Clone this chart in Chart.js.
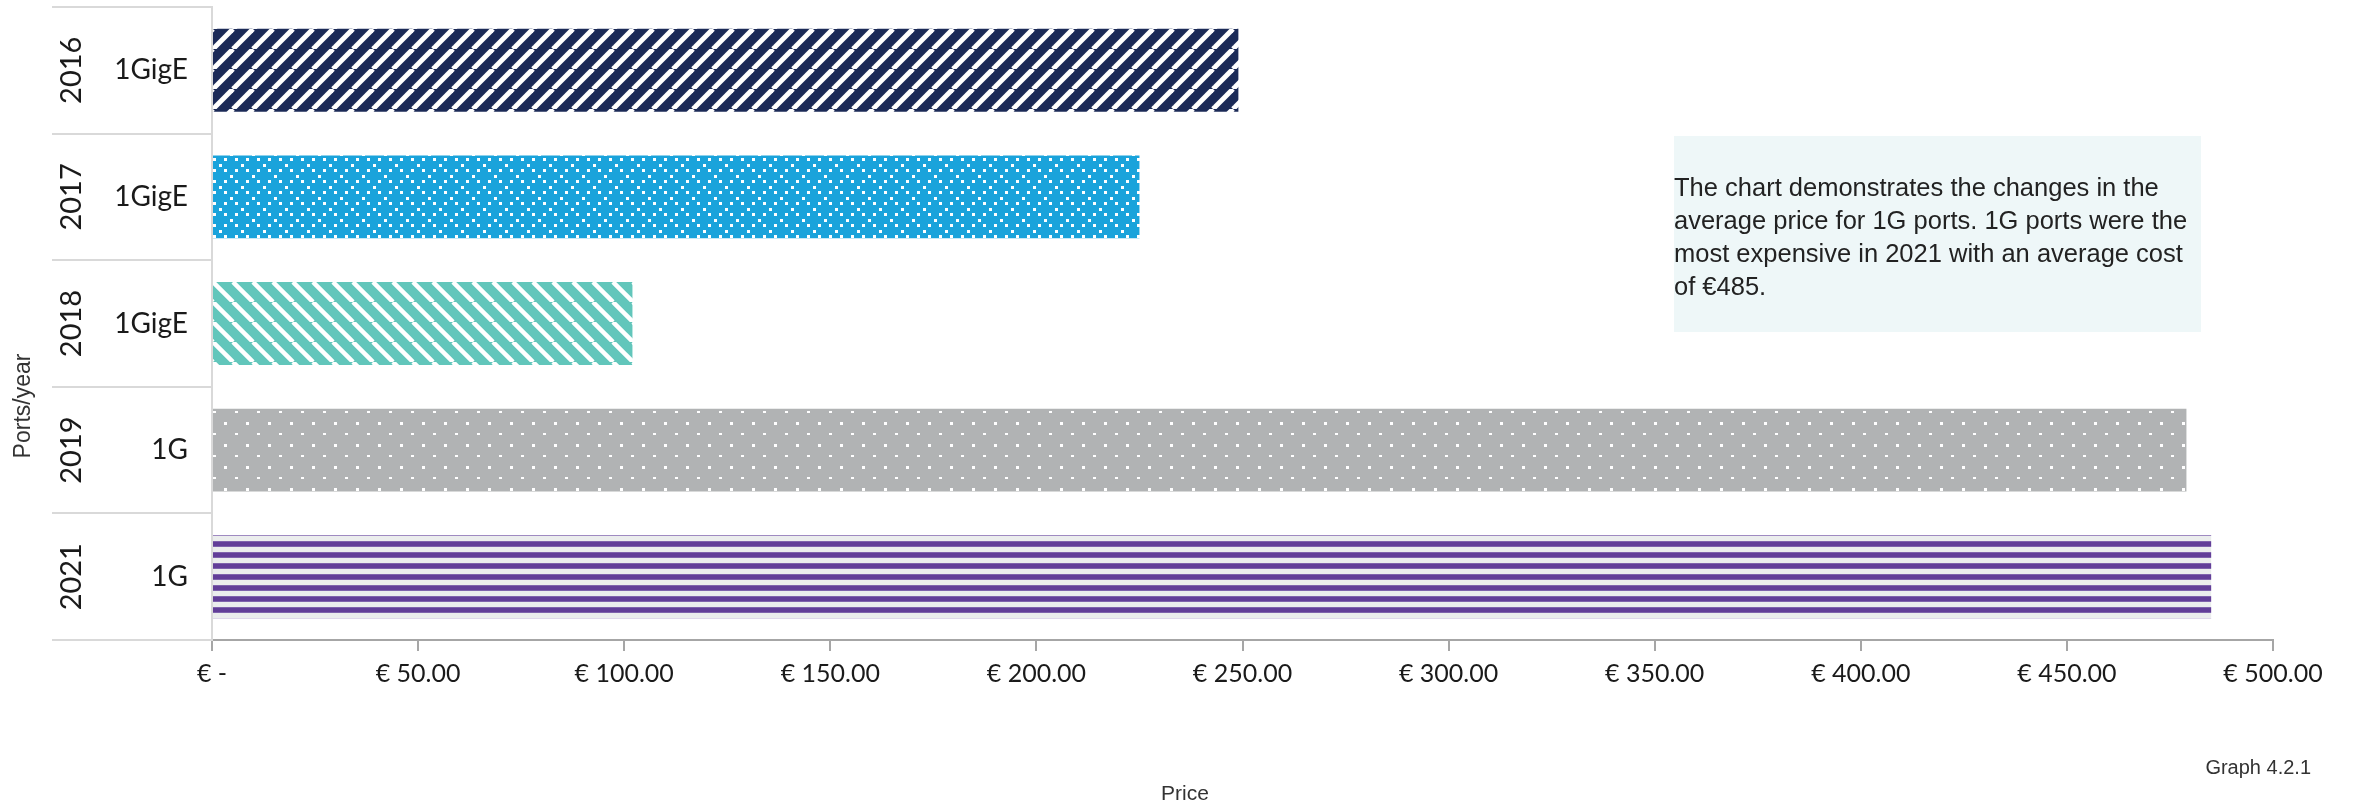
<!DOCTYPE html>
<html>
<head>
<meta charset="utf-8">
<script src="https://cdn.jsdelivr.net/npm/chart.js@4.4.0/dist/chart.umd.min.js"></script>
<style>
  html, body { margin: 0; padding: 0; background: #ffffff; }
  #wrap { width: 2361px; height: 809px; position: relative; }
  canvas { display: block; }
</style>
</head>
<body>
<div id="wrap"><canvas id="c" width="2361" height="809"></canvas></div>
<script>
// ---- data ----
const years = ['2016', '2017', '2018', '2019', '2021'];
const portTypes = ['1GigE', '1GigE', '1GigE', '1G', '1G'];
const prices = [249, 225, 102, 479, 485];
const xTickMin = 0;
const xTickMax = 500;
const xTickStep = 50;
const noteLines = [
  'The chart demonstrates the changes in the',
  'average price for 1G ports. 1G ports were the',
  'most expensive in 2021 with an average cost',
  'of \u20AC485.'
];
const xTitle = 'Price';
const yTitle = 'Ports/year';
const graphRef = 'Graph 4.2.1';

// ---- patterns ----
function makePattern(w, h, draw) {
  const c = document.createElement('canvas');
  c.width = w; c.height = h;
  const g = c.getContext('2d');
  draw(g, w, h);
  return g.createPattern(c, 'repeat');
}
const patNavy = makePattern(20, 20, (g, w, h) => {
  g.fillStyle = '#1B2A57'; g.fillRect(0, 0, w, h);
  g.strokeStyle = '#ffffff'; g.lineWidth = 5;
  for (const o of [-20, 0, 20]) { g.beginPath(); g.moveTo(o, 20); g.lineTo(o + 20, 0); g.stroke(); }
});
const patBlue = makePattern(22, 22, (g, w, h) => {
  g.fillStyle = '#1AA3DB'; g.fillRect(0, 0, w, h);
  g.fillStyle = '#ffffff';
  [[0,0],[11,0],[6,6],[0,11],[11,11],[17,17]].forEach(([x,y]) => g.fillRect(x, y, 3, 3));
});
const patTeal = makePattern(20, 20, (g, w, h) => {
  g.fillStyle = '#62C6BB'; g.fillRect(0, 0, w, h);
  g.strokeStyle = '#ffffff'; g.lineWidth = 4.5;
  for (const o of [-20, 0, 20]) { g.beginPath(); g.moveTo(o, 0); g.lineTo(o + 20, 20); g.stroke(); }
});
const patGray = makePattern(22, 22, (g, w, h) => {
  g.fillStyle = '#B1B3B4'; g.fillRect(0, 0, w, h);
  g.fillStyle = '#ffffff';
  g.fillRect(0, 0, 3, 2);
  g.fillRect(11, 11, 3, 3);
});
const patPurple = makePattern(4, 11, (g, w, h) => {
  g.fillStyle = '#EBEDED'; g.fillRect(0, 0, w, h);
  g.fillStyle = '#9C88C0'; g.fillRect(0, 0, w, 6);
  g.fillStyle = '#623E98'; g.fillRect(0, 0.5, w, 5);
});
const patterns = [patNavy, patBlue, patTeal, patGray, patPurple];
const patternOffsetY = [0, 3, 0, 2, 6];

// align each pattern with its bar
const alignPatterns = {
  id: 'alignPatterns',
  beforeDatasetsDraw(chart) {
    const meta = chart.getDatasetMeta(0);
    meta.data.forEach((el, i) => {
      const p = el.getProps(['x', 'y', 'base', 'height'], true);
      const top = p.y - p.height / 2;
      const pat = patterns[i];
      if (pat && pat.setTransform) {
        pat.setTransform(new DOMMatrix().translate(Math.round(p.base), Math.round(top) + patternOffsetY[i]));
      }
    });
  }
};

// category labels (year rotated + port type) and titles/note
const decorations = {
  id: 'decorations',
  afterDraw(chart) {
    const ctx = chart.ctx;
    const ys = chart.scales.y;
    ctx.save();
    ctx.fillStyle = '#1a1a1a';
    years.forEach((yr, i) => {
      const py = ys.getPixelForValue(i);
      // year, rotated
      ctx.save();
      ctx.translate(72, py);
      ctx.rotate(-Math.PI / 2);
      ctx.font = '29px Lato';
      ctx.textAlign = 'center';
      ctx.textBaseline = 'middle';
      ctx.fillText(yr, 0, 0);
      ctx.restore();
      // port type
      ctx.font = '28px Lato';
      ctx.textAlign = 'right';
      ctx.textBaseline = 'middle';
      ctx.fillText(portTypes[i], 188, py);
    });
    // y title
    ctx.save();
    ctx.translate(24, 406);
    ctx.rotate(-Math.PI / 2);
    ctx.font = '23px "Liberation Sans"';
    ctx.fillStyle = '#333333';
    ctx.textAlign = 'center';
    ctx.textBaseline = 'middle';
    ctx.fillText(yTitle, 0, 0);
    ctx.restore();
    // x title
    ctx.font = '21px "Liberation Sans"';
    ctx.fillStyle = '#333333';
    ctx.textAlign = 'center';
    ctx.textBaseline = 'middle';
    ctx.fillText(xTitle, 1185, 794);
    // graph reference
    ctx.textAlign = 'right';
    ctx.font = '20px "Liberation Sans"';
    ctx.fillText(graphRef, 2311, 768);
    // note box
    ctx.fillStyle = '#EEF7F8';
    ctx.fillRect(1674, 136, 527, 196);
    ctx.fillStyle = '#222222';
    ctx.font = '25.5px "Liberation Sans"';
    ctx.textAlign = 'left';
    ctx.textBaseline = 'middle';
    noteLines.forEach((ln, i) => ctx.fillText(ln, 1674, 189 + i * 33));
    ctx.restore();
  }
};

const chart = new Chart(document.getElementById('c'), {
  type: 'bar',
  data: {
    labels: years,
    datasets: [{
      data: prices,
      backgroundColor: patterns,
      borderWidth: 0,
      categoryPercentage: 1.0,
      barPercentage: 0.655
    }]
  },
  options: {
    indexAxis: 'y',
    responsive: false,
    animation: false,
    events: [],
    layout: { padding: { top: 7, right: 88, bottom: 0, left: 0 } },
    plugins: { legend: { display: false }, tooltip: { enabled: false } },
    scales: {
      x: {
        type: 'linear',
        min: xTickMin,
        max: xTickMax,
        ticks: {
          stepSize: xTickStep,
          padding: 8,
          color: '#1a1a1a',
          font: { family: 'Lato', size: 25 },
          maxRotation: 0,
          callback: (v) => v === 0 ? '\u20AC -' : '\u20AC ' + Number(v).toFixed(2)
        },
        grid: { drawOnChartArea: false, drawTicks: true, tickLength: 11, color: '#A6A6A6', lineWidth: 2 },
        border: { color: '#A6A6A6', width: 2 },
        afterFit(scale) { scale.height = 169; }
      },
      y: {
        type: 'category',
        ticks: { display: false },
        grid: { offset: true, drawOnChartArea: false, drawTicks: true, tickLength: 160, color: '#D9D9D9', lineWidth: 2 },
        border: { color: '#D9D9D9', width: 2 },
        afterFit(scale) { scale.width = 212; }
      }
    }
  },
  plugins: [alignPatterns, decorations]
});
</script>
</body>
</html>
